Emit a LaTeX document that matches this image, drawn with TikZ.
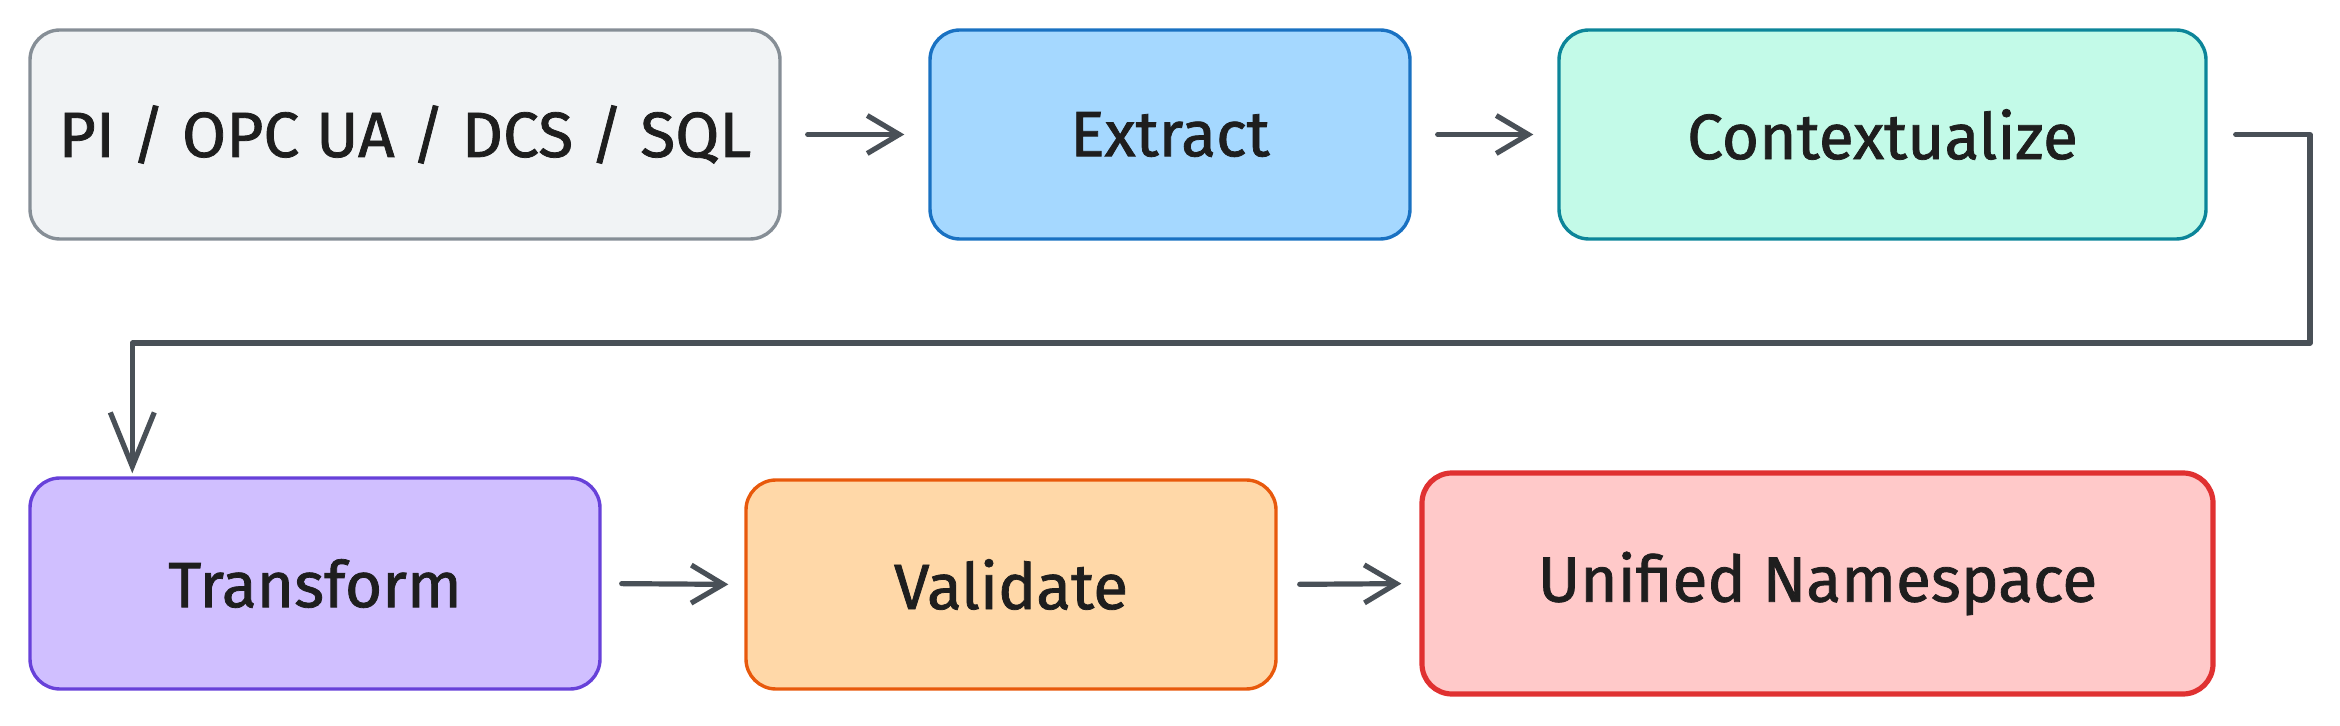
\documentclass[tikz,border=0pt]{standalone}
\usepackage{fontspec}
\setmainfont{Fira Sans}
\newfontfamily\lblfont[FakeBold=1.2]{Fira Sans}
\usetikzlibrary{arrows.meta,calc}
\definecolor{txt}{HTML}{1E1E1E}
\definecolor{arrc}{HTML}{495057}
\definecolor{grayS}{HTML}{868E96}\definecolor{grayF}{HTML}{F1F3F5}
\definecolor{blueS}{HTML}{1971C2}\definecolor{blueF}{HTML}{A5D8FF}
\definecolor{tealS}{HTML}{0C8599}\definecolor{tealF}{HTML}{C3FAE8}
\definecolor{violS}{HTML}{6741D9}\definecolor{violF}{HTML}{D0BFFF}
\definecolor{orS}{HTML}{E8590C}\definecolor{orF}{HTML}{FFD8A8}
\definecolor{redS}{HTML}{E03131}\definecolor{redF}{HTML}{FFC9C9}
\tikzset{
  stepbox/.style={draw, line width=1.7pt, rounded corners=15pt, text=txt,
    font=\lblfont\fontsize{32}{38}\selectfont, inner sep=0pt},
  arr/.style={draw=arrc, line width=2.6pt, line cap=round, line join=round,
    -{Straight Barb[length=16pt,width=19pt,line width=2.6pt]}},
  bigarr/.style={draw=arrc, line width=2.6pt, line cap=round, line join=round,
    -{Straight Barb[length=27pt,width=22pt,line width=2.6pt]}},
}
\begin{document}
\begin{tikzpicture}[x=0.5pt,y=-0.5pt]
\useasboundingbox (0,0) rectangle (2340,726);
\node[stepbox, draw=grayS, fill=grayF, minimum width=375pt, minimum height=104.5pt] (src) at (405,134.5) {PI / OPC UA / DCS / SQL};
\node[stepbox, draw=blueS, fill=blueF, minimum width=240pt, minimum height=104.5pt] (ext) at (1170,134.5) {Extract};
\node[stepbox, draw=tealS, fill=tealF, minimum width=323.5pt, minimum height=104.5pt] (ctx) at (1882.5,134.5) {Contextualize};
\node[stepbox, draw=violS, fill=violF, minimum width=285pt, minimum height=105.5pt] (trf) at (315,583.5) {Transform};
\node[stepbox, draw=orS, fill=orF, minimum width=265pt, minimum height=104.5pt] (val) at (1011,584.5) {Validate};
\node[stepbox, draw=redS, fill=redF, line width=2.6pt, minimum width=395.5pt, minimum height=110.5pt] (uns) at (1817.5,583.5) {Unified Namespace};
\draw[arr, shorten <=13pt, shorten >=12pt] (src.east) -- (ext.west);
\draw[arr, shorten <=13pt, shorten >=12pt] (ext.east) -- (ctx.west);
\draw[arr, shorten <=10pt, shorten >=8pt] (trf.east) -- (val.west);
\draw[arr, shorten <=11pt, shorten >=9pt] (val.east) -- (uns.west);
\coordinate (turn) at (2310,343);
\coordinate (ctxout) at ([xshift=14pt]ctx.east);
\coordinate (trfin) at ([xshift=52pt,yshift=1.5pt]trf.north west);
\draw[bigarr] (ctxout) -| (turn) -| (trfin);
\end{tikzpicture}
\end{document}
